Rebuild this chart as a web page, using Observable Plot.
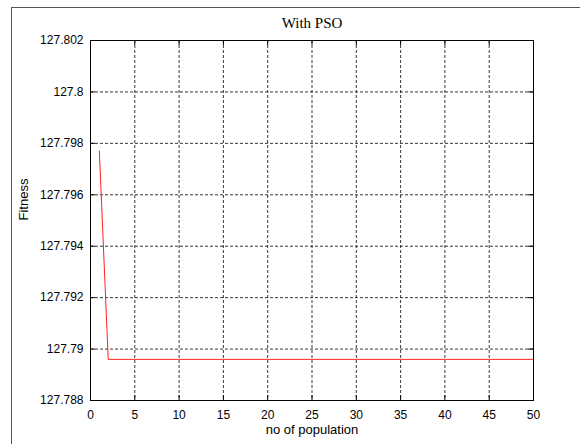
<!DOCTYPE html>
<html>
<head>
<meta charset="utf-8">
<script src="https://cdn.jsdelivr.net/npm/d3@7"></script>
<script src="https://cdn.jsdelivr.net/npm/@observablehq/plot@0.6"></script>
<style>
  html, body { margin: 0; padding: 0; background: #fff; }
  #wrap { position: relative; width: 580px; height: 444px; overflow: hidden; }
  #border { position: absolute; left: 11px; top: 7px; width: 600px; height: 500px; border: 1px solid #555; box-sizing: border-box; }
  #chart { position: absolute; left: 0; top: 0; }
</style>
</head>
<body>
<div id="wrap"><div id="border"></div><div id="chart"></div></div>
<script>
const titleText = "With PSO";
const xLabel = "no of population";
const yLabel = "Fitness";
const population = [1, 2, 50];
const fitness = [127.7977, 127.7896, 127.7896];
const xTicks = [0, 5, 10, 15, 20, 25, 30, 35, 40, 45, 50];
const yTicks = [127.788, 127.790, 127.792, 127.794, 127.796, 127.798, 127.800, 127.802];
const yTickLabels = ["127.788", "127.79", "127.792", "127.794", "127.796", "127.798", "127.8", "127.802"];

const data = population.map((x, i) => ({x, y: fitness[i]}));
const W = 580, H = 444, mL = 90, mR = 47, mT = 40, mB = 44;
const pw = W - mL - mR, ph = H - mT - mB;
const tick = 5;
const sans = "Arial, 'Liberation Sans', Helvetica, sans-serif";

const chart = Plot.plot({
  width: W, height: H,
  marginLeft: mL, marginRight: mR, marginTop: mT, marginBottom: mB,
  style: {fontFamily: sans, fontSize: "12px", background: "transparent", overflow: "visible"},
  x: {domain: [0, 50], ticks: xTicks},
  y: {domain: [127.788, 127.802], ticks: yTicks},
  marks: [
    Plot.gridX(xTicks.slice(1, -1), {stroke: "#222", strokeOpacity: 0.9, strokeDasharray: "3,2"}),
    Plot.gridY(yTicks.slice(1, -1), {stroke: "#222", strokeOpacity: 0.9, strokeDasharray: "3,2"}),
    Plot.axisX(xTicks, {anchor: "bottom", tickSize: 0, tickPadding: 10, label: null, fontSize: 12, fill: "#000"}),
    Plot.axisY(yTicks, {anchor: "left", tickSize: 0, tickPadding: 7, label: null, fontSize: 12, fill: "#000",
      tickFormat: (d) => yTickLabels[yTicks.indexOf(d)]}),
    Plot.tickX(xTicks, {x: d => d, insetTop: ph - tick, stroke: "#000"}),
    Plot.tickX(xTicks, {x: d => d, insetBottom: ph - tick, stroke: "#000"}),
    Plot.tickY(yTicks, {y: d => d, insetRight: pw - tick, stroke: "#000"}),
    Plot.tickY(yTicks, {y: d => d, insetLeft: pw - tick, stroke: "#000"}),
    Plot.line(data, {x: "x", y: "y", stroke: "#ff2020", strokeWidth: 1}),
    Plot.frame({stroke: "#000"}),
    Plot.text([titleText], {frameAnchor: "top", dy: -13, lineAnchor: "bottom", fontFamily: "'Liberation Serif', 'Times New Roman', serif", fontSize: 15, fill: "#000"}),
    Plot.text([xLabel], {frameAnchor: "bottom", dy: 33, lineAnchor: "bottom", fontSize: 13, fill: "#000"}),
    Plot.text([yLabel], {frameAnchor: "left", dx: -63, rotate: -90, lineAnchor: "bottom", fontSize: 13, fill: "#000"})
  ]
});
document.getElementById("chart").appendChild(chart);
</script>
</body>
</html>
